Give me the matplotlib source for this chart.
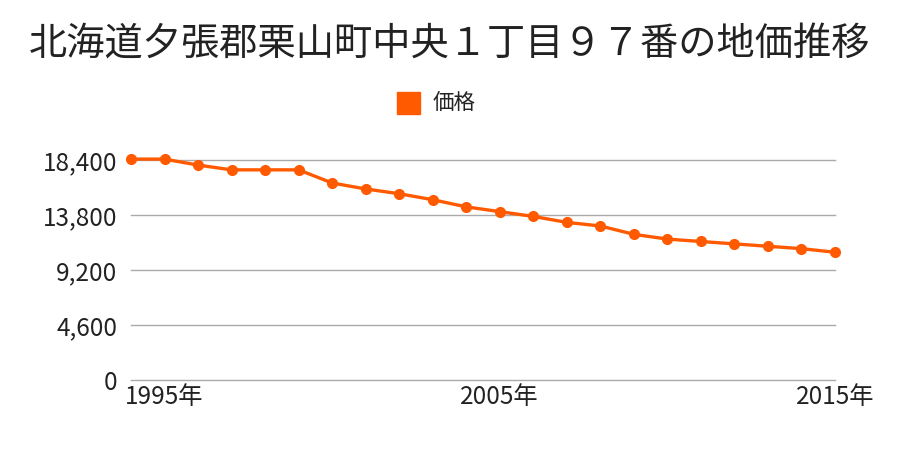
import matplotlib
matplotlib.use('Agg')
import matplotlib.pyplot as plt

plt.rcParams['font.family'] = ['Noto Sans CJK JP', 'DejaVu Sans']

# 年と価格（円/m2）
years = list(range(1994, 2016))
prices = [18500, 18500, 18000, 17600, 17600, 17600, 16500, 16000, 15600, 15100,
          14500, 14100, 13700, 13200, 12900, 12200, 11800, 11600, 11400, 11200,
          11000, 10700]
tick_years = [1995, 2005, 2015]
y_ticks = [0, 4600, 9200, 13800, 18400]
title = '北海道夕張郡栗山町中央１丁目９７番の地価推移'
series_name = '価格'
color = '#ff5a00'

fig = plt.figure(figsize=(9, 4.5), dpi=100)
ax = fig.add_axes([131 / 900, 1 - 380 / 450, (835 - 131) / 900, (380 - 160.3) / 450])

ax.plot(years, prices, color=color, linewidth=2.4, marker='o', markersize=7,
        clip_on=False, zorder=3)

ax.set_xlim(years[0], years[-1])
ax.set_ylim(0, 18400)
ax.set_yticks(y_ticks)
ax.set_yticklabels([f'{v:,}' for v in y_ticks])
ax.set_xticks(tick_years)
ax.set_xticklabels([f'{y}年' for y in tick_years])
ax.grid(axis='y', color='#aaaaaa', linewidth=1)
for gl in ax.get_ygridlines():
    gl.set_clip_on(False)
ax.set_axisbelow(True)
for s in ax.spines.values():
    s.set_visible(False)
ax.tick_params(axis='both', length=0, labelsize=17.5, colors='#222222')
ax.tick_params(axis='y', pad=10)
ax.tick_params(axis='x', pad=3)

fig.text(0.5, 0.9, title, ha='center', va='center', fontsize=27.5, color='#222222')

# 凡例
fig.patches.append(plt.Rectangle((397 / 900, 1 - 114 / 450), 23 / 900, 22 / 450,
                                 transform=fig.transFigure, color=color))
fig.text(433 / 900, 1 - 103 / 450, series_name, ha='left', va='center',
         fontsize=15.5, color='#222222')

fig.savefig('out.png')
